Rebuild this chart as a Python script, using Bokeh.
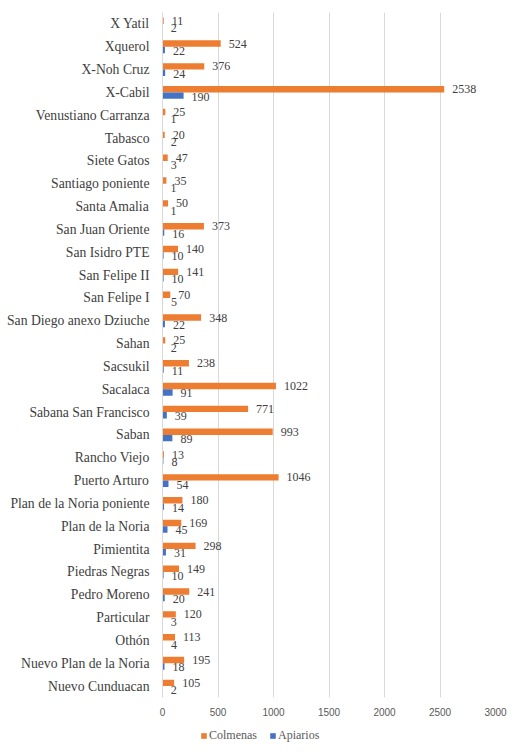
from bokeh.plotting import figure
from bokeh.layouts import column
from bokeh.models import ColumnDataSource, FactorRange, FixedTicker, Legend, LegendItem, Range1d
from bokeh.transform import dodge
from bokeh.embed import file_html
from bokeh.resources import INLINE
from bokeh.core.properties import value

# Data (listed top to bottom as shown in the chart)
comunidades = [
    "X Yatil", "Xquerol", "X-Noh Cruz", "X-Cabil", "Venustiano Carranza",
    "Tabasco", "Siete Gatos", "Santiago poniente", "Santa Amalia", "San Juan Oriente",
    "San Isidro PTE", "San Felipe II", "San Felipe I", "San Diego anexo Dziuche", "Sahan",
    "Sacsukil", "Sacalaca", "Sabana San Francisco", "Saban", "Rancho Viejo",
    "Puerto Arturo", "Plan de la Noria poniente", "Plan de la Noria", "Pimientita", "Piedras Negras",
    "Pedro Moreno", "Particular", "Othón", "Nuevo Plan de la Noria", "Nuevo Cunduacan",
]
colmenas = [11, 524, 376, 2538, 25, 20, 47, 35, 50, 373,
            140, 141, 70, 348, 25, 238, 1022, 771, 993, 13,
            1046, 180, 169, 298, 149, 241, 120, 113, 195, 105]
apiarios = [2, 22, 24, 190, 1, 2, 3, 1, 1, 16,
            10, 10, 5, 22, 2, 11, 91, 39, 89, 8,
            54, 14, 45, 31, 10, 20, 3, 4, 18, 2]
x_ticks = [0, 500, 1000, 1500, 2000, 2500, 3000]
series_names = ["Colmenas", "Apiarios"]

ORANGE = "#ED7D31"
BLUE = "#4472C4"
SERIF = "Liberation Serif"

src = ColumnDataSource(dict(
    cat=comunidades,
    col=colmenas,
    api=apiarios,
    col_txt=[str(v) for v in colmenas],
    api_txt=[str(v) for v in apiarios],
))

p = figure(
    y_range=FactorRange(factors=comunidades[::-1]),
    x_range=Range1d(0, 3000),
    width=509, height=721,
    min_border_left=162, min_border_right=14, min_border_top=12, min_border_bottom=24,
    output_backend="svg", toolbar_location=None,
)

p.hbar(y=dodge("cat", 0.14, range=p.y_range), left=0, right="col", height=0.28,
       fill_color=ORANGE, line_color=None, source=src)
p.hbar(y=dodge("cat", -0.14, range=p.y_range), left=0, right="api", height=0.28,
       fill_color=BLUE, line_color=None, source=src)

p.text(x="col", y=dodge("cat", 0.14, range=p.y_range), text="col_txt", source=src,
       x_offset=8, text_baseline="middle", text_align="left",
       text_font=value(SERIF), text_font_size="12px", text_color="#404040")
p.text(x="api", y=dodge("cat", -0.14, range=p.y_range), text="api_txt", source=src,
       x_offset=8, y_offset=1, text_baseline="middle", text_align="left",
       text_font=value(SERIF), text_font_size="12px", text_color="#404040")

# Axes
p.xaxis.ticker = FixedTicker(ticks=x_ticks)
p.xaxis.axis_line_color = None
p.xaxis.major_tick_line_color = None
p.xaxis.minor_tick_line_color = None
p.xaxis.major_label_standoff = 4
p.xaxis.major_label_text_font = "Liberation Sans"
p.xaxis.major_label_text_font_size = "10px"
p.xaxis.major_label_text_color = "#595959"

p.yaxis.axis_line_color = "#D9D9D9"
p.yaxis.major_tick_line_color = None
p.yaxis.minor_tick_line_color = None
p.yaxis.major_label_standoff = 7
p.yaxis.major_label_text_font = SERIF
p.yaxis.major_label_text_font_size = "13.7px"
p.yaxis.major_label_text_color = "#404040"

p.xgrid.grid_line_color = "#D9D9D9"
p.ygrid.grid_line_color = None
p.outline_line_color = None

# Legend strip below the chart (proxy bars lie outside its visible range)
leg = figure(width=509, height=30, x_range=Range1d(0, 1), y_range=Range1d(0, 1),
             x_axis_type=None, y_axis_type=None, min_border=0,
             output_backend="svg", toolbar_location=None)
leg.grid.visible = False
leg.outline_line_color = None
proxy = ColumnDataSource(dict(y=[5], right=[0]))
r_col = leg.hbar(y="y", right="right", left=0, height=0.5, fill_color=ORANGE, line_color=None, source=proxy)
r_api = leg.hbar(y="y", right="right", left=0, height=0.5, fill_color=BLUE, line_color=None, source=proxy)

legend = Legend(
    items=[LegendItem(label=series_names[0], renderers=[r_col]),
           LegendItem(label=series_names[1], renderers=[r_api])],
    orientation="horizontal", location=(38, 8),
    glyph_width=7, glyph_height=7, label_standoff=2, spacing=12,
    padding=0, margin=0, label_height=14,
    label_text_font=SERIF, label_text_font_size="12px", label_text_color="#595959",
    border_line_color=None, background_fill_alpha=0,
)
leg.add_layout(legend, "center")

open("out.html", "w").write(file_html(column(p, leg), INLINE))
